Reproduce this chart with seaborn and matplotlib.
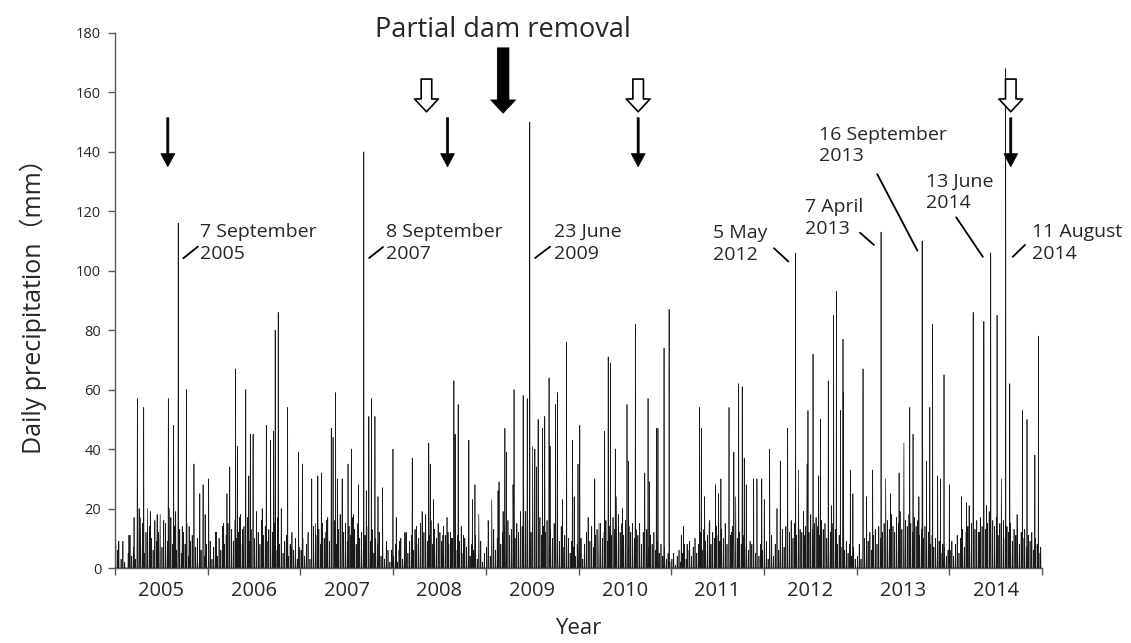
import numpy as np
import pandas as pd
import matplotlib
matplotlib.use('Agg')
import matplotlib.pyplot as plt
import seaborn as sns

# big rain days: (day of year, mm)
peaks_2005 = [(16, 9), (56, 11), (76, 17), (89, 57), (96, 20), (101, 17), (114, 54), (129, 20), (140, 19),
              (167, 18), (178, 9), (193, 16), (211, 57), (215, 20), (232, 48), (240, 19), (250, 116), (266, 14),
              (282, 60), (293, 14), (312, 35), (326, 8), (335, 25), (348, 28), (356, 18)]
peaks_2006 = [(5, 30), (35, 12), (64, 15), (77, 25), (88, 34), (111, 67), (118, 41), (127, 17), (139, 13),
              (151, 60), (163, 31), (169, 45), (180, 45), (216, 20), (232, 48), (249, 43), (261, 46), (267, 80),
              (276, 17), (279, 86), (291, 20), (304, 9), (316, 54), (331, 7), (359, 39)]
peaks_2007 = [(9, 35), (31, 11), (46, 30), (61, 15), (70, 31), (84, 32), (104, 16), (123, 47), (130, 44),
              (140, 59), (148, 30), (166, 30), (189, 35), (202, 40), (211, 18), (230, 28), (251, 140), (261, 26),
              (271, 51), (281, 57), (295, 51), (307, 24), (325, 27), (346, 6)]
peaks_2008 = [(1, 40), (14, 17), (27, 9), (48, 12), (77, 37), (93, 14), (116, 19), (130, 18), (142, 42),
              (148, 35), (161, 23), (198, 11), (218, 12), (231, 10), (241, 63), (246, 45), (258, 55), (279, 11),
              (300, 43), (314, 23), (324, 28), (339, 18)]
peaks_2009 = [(10, 16), (24, 23), (49, 26), (53, 29), (69, 19), (76, 47), (82, 39), (108, 28), (112, 60),
              (137, 19), (148, 58), (150, 26), (164, 57), (174, 150), (185, 41), (194, 40), (200, 34), (207, 50),
              (224, 47), (233, 51), (250, 64), (254, 41), (276, 55), (283, 59), (303, 23), (319, 76), (342, 43),
              (349, 24), (364, 35)]
peaks_2010 = [(6, 48), (39, 17), (65, 30), (82, 15), (104, 46), (118, 71), (127, 69), (146, 40), (150, 24),
              (174, 20), (192, 55), (198, 36), (225, 82), (242, 15), (262, 32), (275, 57), (281, 29), (308, 47),
              (314, 47), (338, 74), (358, 87)]
peaks_2011 = [(41, 11), (50, 14), (64, 8), (113, 54), (120, 47), (133, 24), (153, 16), (176, 28), (188, 25),
              (197, 30), (229, 54), (238, 12), (248, 39), (255, 24), (267, 62), (281, 61), (289, 37), (297, 28),
              (326, 30), (339, 30), (358, 30)]
peaks_2012 = [(3, 23), (24, 40), (53, 20), (66, 36), (95, 47), (126, 106), (138, 33), (163, 11), (171, 35),
              (175, 53), (195, 72), (217, 31), (224, 50), (255, 63), (267, 21), (276, 85), (287, 93), (303, 53),
              (313, 77), (315, 59), (342, 33), (352, 25)]
peaks_2013 = [(26, 67), (40, 24), (64, 33), (97, 113), (115, 30), (134, 25), (168, 32), (187, 42), (210, 54),
              (223, 45), (246, 24), (259, 110), (261, 41), (276, 36), (289, 54), (300, 82), (320, 31), (331, 30),
              (345, 65)]
peaks_2014 = [(1, 28), (49, 24), (69, 22), (79, 21), (95, 86), (121, 12), (137, 83), (147, 21), (164, 106),
              (189, 85), (206, 30), (223, 168), (239, 62), (268, 18), (289, 53), (307, 50), (338, 38), (352, 78)]

# smaller rain, one value per week (mm), estimated from the dense lower band
weekly_2005 = "8 6 0 3 9 2 0 5 11 4 7 3 13 6 9 15 5 12 8 14 10 6 16 9 12 18 7 13 15 9 11 17 8 14 6 10 13 5 12 8 15 4 9 11 3 7 10 2 6 9 4 8"
weekly_2006 = "5 9 3 7 12 4 10 6 14 8 11 15 7 13 9 16 10 12 18 8 14 11 17 9 13 15 10 19 12 8 16 11 14 9 13 7 12 15 6 10 8 13 5 9 11 4 8 12 6 10 3 7"
weekly_2007 = "6 10 4 8 12 3 9 14 7 11 13 8 15 10 12 17 9 14 11 16 8 13 18 10 12 15 9 14 11 17 13 8 15 10 12 6 11 14 7 9 13 5 10 8 12 4 7 3 9 5 2 6"
weekly_2008 = "4 8 2 6 10 3 7 12 5 9 11 6 13 8 10 15 7 12 14 9 11 16 8 13 10 15 12 9 14 11 17 8 12 10 13 6 11 9 14 5 10 7 12 4 8 6 11 3 7 9 2 5"
weekly_2009 = "7 11 4 9 13 6 10 15 8 12 14 9 16 11 13 18 10 15 12 17 14 11 19 13 16 12 18 10 15 13 17 11 14 12 16 9 13 10 15 8 12 9 14 7 11 6 10 5 9 7 4 8"
weekly_2010 = "6 10 3 8 12 5 9 14 7 11 13 8 15 10 12 16 9 14 11 17 13 10 18 12 15 11 16 9 14 12 15 10 13 11 14 8 12 9 13 7 11 8 12 6 9 5 8 4 7 3 5 2"
weekly_2011 = "3 5 1 4 6 2 5 8 3 6 9 4 7 10 5 8 12 6 13 9 11 15 8 12 10 14 11 9 13 10 15 8 12 11 14 9 13 10 12 8 11 7 10 6 9 8 12 5 7 4 8 6"
weekly_2012 = "5 9 3 7 11 4 8 12 6 10 13 7 14 9 12 16 10 15 11 17 13 12 19 14 16 12 18 13 15 17 14 11 16 13 15 10 14 12 15 9 13 8 11 7 10 6 9 5 8 4 7 3"
weekly_2013 = "4 8 3 7 10 5 9 12 6 11 13 8 14 10 12 15 11 16 13 18 14 12 17 15 19 13 20 16 14 18 15 12 17 14 16 11 13 10 14 9 12 8 11 7 10 6 9 5 8 7 4 6"
weekly_2014 = "6 9 4 8 11 5 10 13 7 12 14 9 15 11 13 16 12 17 14 18 13 15 19 12 16 14 17 11 15 13 16 10 14 12 15 9 13 11 14 8 12 10 13 7 11 9 12 6 10 8 5 7"

years = list(range(2005, 2015))
year_labels = [str(y) for y in years]

event_dates = ['2005-09-07', '2007-09-08', '2009-06-23', '2012-05-05',
               '2013-04-07', '2013-09-16', '2014-06-13', '2014-08-11']
event_labels = ['7 September\n2005', '8 September\n2007', '23 June\n2009', '5 May\n2012',
                '7 April\n2013', '16 September\n2013', '13 June\n2014', '11 August\n2014']

survey_dates = ['2005-07-28', '2008-08-03', '2010-08-24', '2014-08-31']
open_arrow_dates = ['2008-05-12', '2010-08-24', '2014-08-31']
removal_date = '2009-03-10'

# build the daily series
start = pd.Timestamp('2005-01-01')
year_starts = pd.date_range('2005-01-01', '2015-01-01', freq='YS')
start_days = [(d - start).days for d in year_starts]
n_days = start_days[-1]
rain = np.zeros(n_days)

peaks = dict(zip(years, [peaks_2005, peaks_2006, peaks_2007, peaks_2008, peaks_2009,
                         peaks_2010, peaks_2011, peaks_2012, peaks_2013, peaks_2014]))
weekly = dict(zip(years, [weekly_2005, weekly_2006, weekly_2007, weekly_2008, weekly_2009,
                          weekly_2010, weekly_2011, weekly_2012, weekly_2013, weekly_2014]))
for i, yr in enumerate(years):
    d0 = start_days[i]
    for k, v in enumerate(weekly[yr].split()):
        rain[d0 + 7 * k + 3] = float(v)
    for doy, v in peaks[yr]:
        rain[d0 + doy - 1] = max(rain[d0 + doy - 1], v)

daily = pd.DataFrame({'day': np.arange(n_days), 'mm': rain})


def day_of(s):
    return (pd.Timestamp(s) - start).days


sns.set_style('white')
plt.rcParams['font.family'] = ['Open Sans', 'Noto Sans CJK JP', 'DejaVu Sans']

fig = plt.figure(figsize=(11.31, 6.43), dpi=100)
ax = fig.add_axes([0.1017, 0.1166, 0.8196, 0.8321])

sns.lineplot(data=daily, x='day', y='mm', ax=ax, color='#1a1a1a', lw=0.5, estimator=None)

ax.set_xlim(0, n_days)
ax.set_ylim(0, 180)
ax.set_yticks(np.arange(0, 181, 20))
ax.set_xticks(start_days)
ax.set_xticklabels([])
mids = [(start_days[i] + start_days[i + 1]) / 2 for i in range(len(years))]
ax.set_xticks(mids, minor=True)
ax.set_xticklabels(year_labels, minor=True, fontsize=14.5)
ax.tick_params(axis='x', which='major', direction='out', length=5, width=1, color='#595959', bottom=True)
ax.tick_params(axis='x', which='minor', length=0, pad=9)
ax.tick_params(axis='y', direction='out', length=5, width=1, color='#595959', labelsize=10.5,
               labelcolor='#262626', left=True, pad=5)
for s in ['top', 'right']:
    ax.spines[s].set_visible(False)
for s in ['left', 'bottom']:
    ax.spines[s].set_color('#595959')
    ax.spines[s].set_linewidth(1)
ax.set_xlabel('')
ax.set_ylabel('')

ax.text(0.5, -0.093, 'Year', transform=ax.transAxes, ha='center', va='top', fontsize=16)
ax.text(-0.088, 0.5, 'Daily precipitation（mm）', transform=ax.transAxes, rotation=90,
        ha='center', va='center', fontsize=18)

# event labels with short leader lines
text_pos = [(335, 109.4), (1068, 109.4), (1730, 109.4), (2355, 109.0),
            (2719, 117.8), (2775, 142.2), (3195, 126.4), (3613, 109.4)]
leaders = [((269, 104.2), (326, 108.1)), ((1001, 104.3), (1056, 108.0)), ((1655, 104.3), (1714, 108.1)),
           ((2596, 107.6), (2653, 103.1)), ((2935, 112.8), (2990, 108.7)), ((3003, 132.5), (3161, 106.8)),
           ((3314, 118.0), (3419, 104.7)), ((3537, 104.7), (3585, 108.7))]
for lab, (tx, ty), ((x1, y1), (x2, y2)) in zip(event_labels, text_pos, leaders):
    ax.text(tx, ty, lab, ha='left', va='center', fontsize=14, linespacing=1.25)
    ax.plot([x1, x2], [y1, y2], color='black', lw=1.3)

# sampling arrows
for d in survey_dates:
    ax.annotate('', xy=(day_of(d), 135), xytext=(day_of(d), 151.5),
                arrowprops=dict(arrowstyle='simple,head_length=0.94,head_width=1.0,tail_width=0.15',
                                fc='black', ec='black', lw=0.5, shrinkA=0, shrinkB=0, mutation_scale=10))
for d in open_arrow_dates:
    ax.annotate('', xy=(day_of(d), 153.5), xytext=(day_of(d), 164.5),
                arrowprops=dict(arrowstyle='simple,head_length=0.46,head_width=0.86,tail_width=0.38',
                                fc='white', ec='black', lw=1.2, shrinkA=0, shrinkB=0, mutation_scale=20))
ax.annotate('', xy=(day_of(removal_date), 153), xytext=(day_of(removal_date), 175),
            arrowprops=dict(arrowstyle='simple,head_length=0.48,head_width=0.9,tail_width=0.42',
                            fc='black', ec='black', lw=0.5, shrinkA=0, shrinkB=0, mutation_scale=20))
ax.text(day_of(removal_date), 178.5, 'Partial dam removal', ha='center', va='baseline', fontsize=19.5)

fig.savefig('out.png', dpi=100)
